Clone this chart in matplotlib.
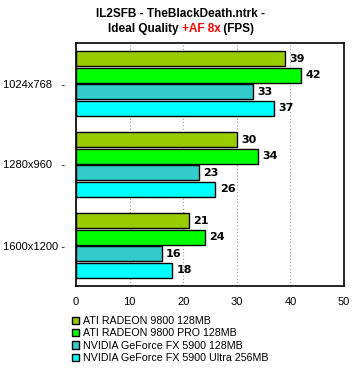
import matplotlib
matplotlib.use("Agg")
import matplotlib.pyplot as plt
import numpy as np
from matplotlib.patches import Patch
from matplotlib.offsetbox import TextArea, HPacker, AnchoredOffsetbox

resolutions = ["1024x768", "1280x960", "1600x1200"]
ytick_labels = ["1024x768   -", "1280x960   -", "1600x1200 -"]
cards = ["ATI RADEON 9800 128MB", "ATI RADEON 9800 PRO 128MB",
         "NVIDIA GeForce FX 5900 128MB", "NVIDIA GeForce FX 5900 Ultra 256MB"]
radeon_9800 = [39, 30, 21]
radeon_9800_pro = [42, 34, 24]
fx_5900 = [33, 23, 16]
fx_5900_ultra = [37, 26, 18]
colors = ["#99CC00", "#00FF00", "#33CCCC", "#00FFFF"]

series = [radeon_9800, radeon_9800_pro, fx_5900, fx_5900_ultra]

plt.rcParams['font.family'] = ['Liberation Sans', 'DejaVu Sans']

fig = plt.figure(figsize=(3.57, 3.71), dpi=100)
ax = fig.add_axes([76/357, 1 - 286/371, (344 - 76)/357, (286 - 43)/371])

y = np.arange(len(resolutions))
pitch = 0.205
for i, vals in enumerate(series):
    pos = y + (i - 1.5) * pitch
    ax.barh(pos, vals, height=0.185, color=colors[i], edgecolor="black", linewidth=1)
    for p, v in zip(pos, vals):
        ax.text(v + 0.8, p, str(v), va="center", ha="left", fontsize=8,
                fontweight="bold", family="DejaVu Sans")

ax.set_xlim(0, 50)
ax.set_ylim(2.5, -0.5)
ax.set_xticks(range(0, 51, 10))
ax.set_yticks(y)
ax.set_yticklabels(ytick_labels, fontsize=8)
ax.tick_params(axis="x", length=0, pad=8, labelsize=8)
ax.tick_params(axis="y", length=0, pad=8)
ax.xaxis.grid(True, linestyle=(0, (1, 2)), color="#999999", linewidth=0.8)
ax.set_axisbelow(True)
for s in ax.spines.values():
    s.set_linewidth(1.2)

# title with red part
line1 = TextArea("IL2SFB - TheBlackDeath.ntrk -",
                 textprops=dict(fontsize=8.5, fontweight="bold", color="black"))
parts = [("Ideal Quality ", "black"), ("+AF 8x", "red"), (" (FPS)", "black")]
line2 = HPacker(children=[TextArea(t, textprops=dict(fontsize=8.5, fontweight="bold", color=c))
                          for t, c in parts], pad=0, sep=0)
box1 = AnchoredOffsetbox(loc="center", child=line1, frameon=False,
                         bbox_to_anchor=(181/357, 1 - 14/371), bbox_transform=fig.transFigure, pad=0, borderpad=0)
box2 = AnchoredOffsetbox(loc="center", child=line2, frameon=False,
                         bbox_to_anchor=(181/357, 1 - 29/371), bbox_transform=fig.transFigure, pad=0, borderpad=0)
fig.add_artist(box1)
fig.add_artist(box2)

handles = [Patch(facecolor=c, edgecolor="black", linewidth=1) for c in colors]
fig.legend(handles, cards, loc="upper left", bbox_to_anchor=(72/357, 1 - 316/371),
           frameon=False, fontsize=7.7, handlelength=0.7, handleheight=0.7,
           handletextpad=0.3, labelspacing=0.22, borderaxespad=0, borderpad=0)

fig.savefig("out.png", dpi=100)
